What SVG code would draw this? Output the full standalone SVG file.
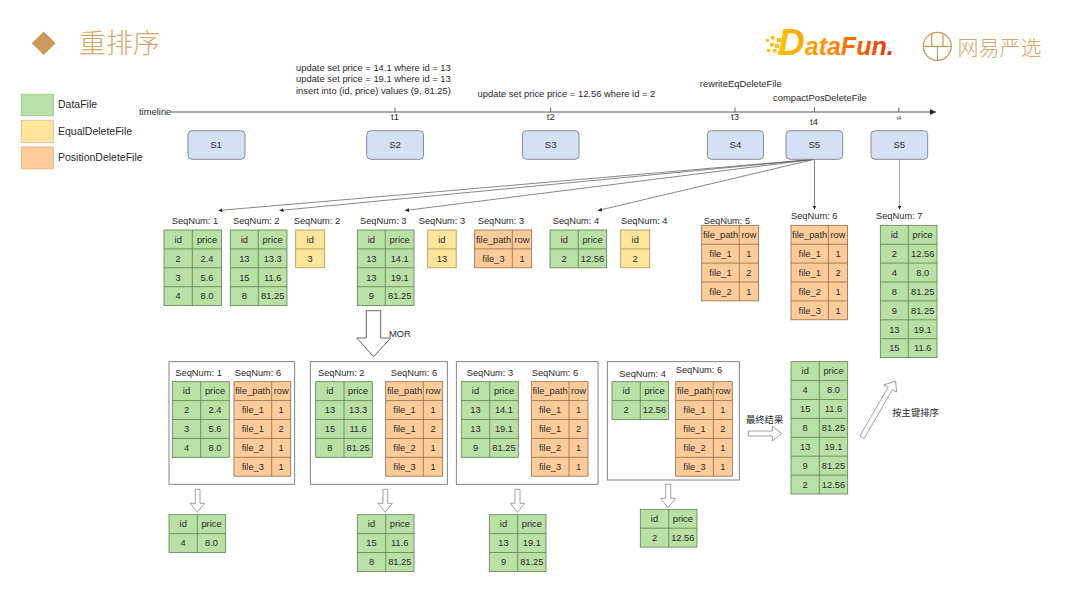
<svg xmlns="http://www.w3.org/2000/svg" width="1080" height="608" viewBox="0 0 1080 608">
<style>
text{font-family:"Liberation Sans","Noto Sans CJK SC",sans-serif;font-size:9.3px;fill:#2a2a2a}
.tb text{text-anchor:middle}
.g rect,.g path{stroke:#5f7f56}
.g rect{fill:#b9e0a5}
.y rect,.y path{stroke:#a8955c}
.y rect{fill:#ffe599}
.o rect,.o path{stroke:#8a6a4c}
.o rect{fill:#ffcc99}
.tb rect,.tb path{stroke-width:.8;fill-rule:evenodd}
.tb path{fill:none}
.box{fill:none;stroke:#666;stroke-width:.8}
.snap rect{fill:#d4e1f5;stroke:#7d808a;stroke-width:.9}
.snap text{text-anchor:middle;font-size:9.6px}
.lbl{font-size:9.4px}
.c{fill:none;stroke:#555;stroke-width:.7}
.big{fill:#fff;stroke:#555;stroke-width:.9}
.sm{fill:#fff;stroke:#888;stroke-width:.8}
.tick{fill:none;stroke:#444;stroke-width:.8}
.cjk{fill:#d6a76c}
</style>
<defs>
<marker id="ah" markerUnits="userSpaceOnUse" markerWidth="5" markerHeight="5" refX="4" refY="2" orient="auto"><path d="M0 0L4 2L0 4Z" fill="#222"/></marker>
<marker id="ahb" markerUnits="userSpaceOnUse" markerWidth="7" markerHeight="7" refX="6" refY="3" orient="auto"><path d="M0 0L6 3L0 6Z" fill="#222"/></marker>
<linearGradient id="df" gradientUnits="userSpaceOnUse" x1="780" y1="0" x2="892" y2="0"><stop offset="0" stop-color="#ffc000"/><stop offset=".45" stop-color="#ff8c00"/><stop offset="1" stop-color="#f03000"/></linearGradient>
</defs>

<g id="title">
<path d="M43.7 31.6L55.7 43.3L43.7 55L31.7 43.3Z" fill="#c99a5b"/>
<text x="79" y="52.5" class="cjk" style="font-size:27px;font-weight:300">重排序</text>
</g>

<g id="logo-datafun">
<g fill="#fdc010"><rect x="766" y="39" width="3" height="3"/><rect x="771" y="36" width="3.5" height="3.5"/><rect x="777" y="38" width="4" height="4"/><rect x="770" y="43" width="3.5" height="3.5"/><rect x="775" y="44" width="4" height="4"/><rect x="767" y="49" width="3" height="3"/><rect x="773" y="49" width="3.5" height="3.5"/><rect x="778" y="51" width="4" height="4"/></g>
<text x="778" y="55" style="font-size:25px;font-weight:bold;font-style:italic;fill:url(#df)"><tspan style="font-size:37px">D</tspan>ataFun.</text>
</g>
<g id="logo-yanxuan">
<circle cx="937.3" cy="46.3" r="14" fill="none" stroke="#c99a5b" stroke-width="1.3"/>
<path d="M931.7 33.5V46.3M943 33.5V46.3M923.5 46.3H951M937.5 46.3V60" fill="none" stroke="#c99a5b" stroke-width="1.2"/>
<text x="957.5" y="54.5" class="cjk" style="font-size:21px;font-weight:300">网易严选</text>
</g>

<g id="legend">
<rect x="21.3" y="94.3" width="32" height="21.4" fill="#b9e0a5" stroke="#a3c592"/>
<rect x="21.3" y="120.3" width="32" height="22.4" fill="#ffe599" stroke="#dcc2a8"/>
<rect x="21.3" y="147" width="32" height="21.7" fill="#ffcc99" stroke="#e5b878"/>
<text x="58" y="108.3" style="font-size:10.5px">DataFile</text>
<text x="58" y="135" style="font-size:10.5px">EqualDeleteFile</text>
<text x="58" y="161.4" style="font-size:10.5px">PositionDeleteFile</text>
</g>

<g id="connectors">
<path class="tick" d="M171 112H936" marker-end="url(#ahb)" style="stroke:#555;stroke-width:1"/>
<path class="tick" d="M395 107.3V112M550.7 107.3V112M735 107.3V112M814.5 107.3V112M898.8 107.3V112"/>
<path class="c" d="M814.5 159.3L218.5 210.5" marker-end="url(#ah)"/>
<path class="c" d="M814.5 159.3L279.5 210.5" marker-end="url(#ah)"/>
<path class="c" d="M814.5 159.3L405 210.5" marker-end="url(#ah)"/>
<path class="c" d="M814.5 159.3L598 210.5" marker-end="url(#ah)"/>
<path class="c" d="M814.5 159.3V209.5" marker-end="url(#ah)"/>
<path class="c" d="M899.5 159.3V209.5" marker-end="url(#ah)" style="stroke:#888"/>
<path class="big" d="M366.3 310.7H380.7V338H390.7L373.7 356.7L356.7 338H366.3Z"/>
<path class="sm" d="M195.3 489.3H200V503.3H204.7L197.3 512.3L190 503.3H195.3Z"/>
<path class="sm" d="M383 489.3H387.7V503.3H392.3L385.3 512.3L378 503.3H383Z"/>
<path class="sm" d="M515 489.3H520V503.3H524.7L517.3 512.3L510.3 503.3H515Z"/>
<path class="sm" d="M665.7 484.3H670.7V498.3H675.7L668 507.7L660.7 498.3H665.7Z"/>
<path class="sm" d="M748.3 431H772.3V426L781.7 433.5L772.3 441V436H748.3Z"/>
<path class="sm" d="M859.9 436L888.1 387.2L883.7 385L895.5 381L896.7 392L892.3 389.8L864.1 438.6Z"/>
</g>

<g id="texts">
<text x="139" y="115.3" class="lbl">timeline</text>
<text x="296" y="71.2" class="lbl">update set price = 14.1 where id = 13</text>
<text x="296" y="82.4" class="lbl">update set price = 19.1 where id = 13</text>
<text x="296" y="94" class="lbl">insert into (id, price) values (9, 81.25)</text>
<text x="477.6" y="96.6" class="lbl">update set price price = 12.56 where id = 2</text>
<text x="699.8" y="87.3" class="lbl">rewriteEqDeleteFile</text>
<text x="773" y="101.3" class="lbl">compactPosDeleteFile</text>
<text x="395" y="120.3" class="lbl" text-anchor="middle">t1</text>
<text x="550.7" y="120.3" class="lbl" text-anchor="middle">t2</text>
<text x="735" y="120.3" class="lbl" text-anchor="middle">t3</text>
<text x="814" y="125.3" class="lbl" text-anchor="middle">t4</text>
<text x="899" y="119.5" text-anchor="middle" style="font-size:5.5px">t4</text>
<text x="389" y="337" class="lbl">MOR</text>
<text x="746" y="422.5">最终结果</text>
<text x="892.3" y="415.5">按主键排序</text>
</g>

<g id="s1" class="snap"><rect x="188" y="130.7" width="57" height="28.6" rx="4"/><text x="216" y="148.3">S1</text></g>
<g id="s2" class="snap"><rect x="366.7" y="130.7" width="56.8" height="28.6" rx="4"/><text x="395" y="148.3">S2</text></g>
<g id="s3" class="snap"><rect x="522.4" y="130.7" width="56.6" height="28.6" rx="4"/><text x="550.7" y="148.3">S3</text></g>
<g id="s4" class="snap"><rect x="707.4" y="130.7" width="56.1" height="28.6" rx="4"/><text x="735.4" y="148.3">S4</text></g>
<g id="s5" class="snap"><rect x="786" y="130.7" width="56.7" height="28.6" rx="4"/><text x="814.3" y="148.3">S5</text></g>
<g id="s5b" class="snap"><rect x="871" y="130.7" width="56.7" height="28.6" rx="4"/><text x="899.3" y="148.3">S5</text></g>

<g id="seqnums">
<text x="171.7" y="224">SeqNum: 1</text>
<text x="233" y="224">SeqNum: 2</text>
<text x="293.7" y="224">SeqNum: 2</text>
<text x="360" y="224">SeqNum: 3</text>
<text x="418.7" y="224">SeqNum: 3</text>
<text x="477.7" y="224">SeqNum: 3</text>
<text x="552.7" y="224">SeqNum: 4</text>
<text x="621" y="224">SeqNum: 4</text>
<text x="703.7" y="224">SeqNum: 5</text>
<text x="791" y="219">SeqNum: 6</text>
<text x="876" y="219">SeqNum: 7</text>
</g>

<g id="t1" class="tb g" transform="translate(164 230)"><rect width="57.5" height="75.6"/><path d="M28.3 0V75.6M0 18.9H57.5M0 37.8H57.5M0 56.7H57.5"/><text x="14.2" y="12.75">id</text><text x="43" y="12.75">price</text><text x="14.2" y="31.65">2</text><text x="43" y="31.65">2.4</text><text x="14.2" y="50.55">3</text><text x="43" y="50.55">5.6</text><text x="14.2" y="69.45">4</text><text x="43" y="69.45">8.0</text></g>
<g id="t2" class="tb g" transform="translate(230.3 230)"><rect width="56.7" height="75.6"/><path d="M28 0V75.6M0 18.9H56.7M0 37.8H56.7M0 56.7H56.7"/><text x="14" y="12.75">id</text><text x="42.4" y="12.75">price</text><text x="14" y="31.65">13</text><text x="42.4" y="31.65">13.3</text><text x="14" y="50.55">15</text><text x="42.4" y="50.55">11.6</text><text x="14" y="69.45">8</text><text x="42.4" y="69.45">81.25</text></g>
<g id="t3" class="tb y" transform="translate(295.7 230)"><rect width="29" height="37.8"/><path d="M0 18.9H29"/><text x="14.5" y="12.75">id</text><text x="14.5" y="31.65">3</text></g>
<g id="t4" class="tb g" transform="translate(357.3 230)"><rect width="56.7" height="75.6"/><path d="M28 0V75.6M0 18.9H56.7M0 37.8H56.7M0 56.7H56.7"/><text x="14" y="12.75">id</text><text x="42.4" y="12.75">price</text><text x="14" y="31.65">13</text><text x="42.4" y="31.65">14.1</text><text x="14" y="50.55">13</text><text x="42.4" y="50.55">19.1</text><text x="14" y="69.45">9</text><text x="42.4" y="69.45">81.25</text></g>
<g id="t5" class="tb y" transform="translate(427.7 230)"><rect width="28.5" height="37.8"/><path d="M0 18.9H28.5"/><text x="14.2" y="12.75">id</text><text x="14.2" y="31.65">13</text></g>
<g id="t6" class="tb o" transform="translate(474.7 230)"><rect width="57" height="37.8"/><path d="M37.6 0V37.8M0 18.9H57"/><text x="18.8" y="12.75">file_path</text><text x="47.3" y="12.75">row</text><text x="18.8" y="31.65">file_3</text><text x="47.3" y="31.65">1</text></g>
<g id="t7" class="tb g" transform="translate(550 230)"><rect width="56.7" height="37.8"/><path d="M28.3 0V37.8M0 18.9H56.7"/><text x="14.2" y="12.75">id</text><text x="42.5" y="12.75">price</text><text x="14.2" y="31.65">2</text><text x="42.5" y="31.65">12.56</text></g>
<g id="t8" class="tb y" transform="translate(620.7 230)"><rect width="29" height="37.8"/><path d="M0 18.9H29"/><text x="14.5" y="12.75">id</text><text x="14.5" y="31.65">2</text></g>
<g id="t9" class="tb o" transform="translate(701.7 225.3)"><rect width="56.7" height="75.6"/><path d="M37.6 0V75.6M0 18.9H56.7M0 37.8H56.7M0 56.7H56.7"/><text x="18.8" y="12.75">file_path</text><text x="47.2" y="12.75">row</text><text x="18.8" y="31.65">file_1</text><text x="47.2" y="31.65">1</text><text x="18.8" y="50.55">file_1</text><text x="47.2" y="50.55">2</text><text x="18.8" y="69.45">file_2</text><text x="47.2" y="69.45">1</text></g>
<g id="t10" class="tb o" transform="translate(791 225.3)"><rect width="56.5" height="94.5"/><path d="M37.4 0V94.5M0 18.9H56.5M0 37.8H56.5M0 56.7H56.5M0 75.6H56.5"/><text x="18.7" y="12.75">file_path</text><text x="47" y="12.75">row</text><text x="18.7" y="31.65">file_1</text><text x="47" y="31.65">1</text><text x="18.7" y="50.55">file_1</text><text x="47" y="50.55">2</text><text x="18.7" y="69.45">file_2</text><text x="47" y="69.45">1</text><text x="18.7" y="88.35">file_3</text><text x="47" y="88.35">1</text></g>
<g id="t11" class="tb g" transform="translate(880.3 225.3)"><rect width="56.7" height="132.3"/><path d="M28 0V132.3M0 18.9H56.7M0 37.8H56.7M0 56.7H56.7M0 75.6H56.7M0 94.5H56.7M0 113.4H56.7"/><text x="14" y="12.75">id</text><text x="42.4" y="12.75">price</text><text x="14" y="31.65">2</text><text x="42.4" y="31.65">12.56</text><text x="14" y="50.55">4</text><text x="42.4" y="50.55">8.0</text><text x="14" y="69.45">8</text><text x="42.4" y="69.45">81.25</text><text x="14" y="88.35">9</text><text x="42.4" y="88.35">81.25</text><text x="14" y="107.25">13</text><text x="42.4" y="107.25">19.1</text><text x="14" y="126.15">15</text><text x="42.4" y="126.15">11.6</text></g>

<g id="mor1">
<rect class="box" x="169" y="361.7" width="125.7" height="122.6"/>
<text x="175.3" y="375.6">SeqNum: 1</text><text x="234.7" y="375.6">SeqNum: 6</text>
<g class="tb g" transform="translate(172.3 381.7)"><rect width="57" height="75.6"/><path d="M28.4 0V75.6M0 18.9H57M0 37.8H57M0 56.7H57"/><text x="14.2" y="12.75">id</text><text x="42.7" y="12.75">price</text><text x="14.2" y="31.65">2</text><text x="42.7" y="31.65">2.4</text><text x="14.2" y="50.55">3</text><text x="42.7" y="50.55">5.6</text><text x="14.2" y="69.45">4</text><text x="42.7" y="69.45">8.0</text></g>
<g class="tb o" transform="translate(234 381.7)"><rect width="56.7" height="94.5"/><path d="M37.7 0V94.5M0 18.9H56.7M0 37.8H56.7M0 56.7H56.7M0 75.6H56.7"/><text x="18.8" y="12.75">file_path</text><text x="47.2" y="12.75">row</text><text x="18.8" y="31.65">file_1</text><text x="47.2" y="31.65">1</text><text x="18.8" y="50.55">file_1</text><text x="47.2" y="50.55">2</text><text x="18.8" y="69.45">file_2</text><text x="47.2" y="69.45">1</text><text x="18.8" y="88.35">file_3</text><text x="47.2" y="88.35">1</text></g>
</g>
<g id="mor2">
<rect class="box" x="310.3" y="361.7" width="137" height="122.6"/>
<text x="318" y="375.6">SeqNum: 2</text><text x="390.7" y="375.6">SeqNum: 6</text>
<g class="tb g" transform="translate(315.7 381.7)"><rect width="56.6" height="75.6"/><path d="M28.3 0V75.6M0 18.9H56.6M0 37.8H56.6M0 56.7H56.6"/><text x="14.2" y="12.75">id</text><text x="42.4" y="12.75">price</text><text x="14.2" y="31.65">13</text><text x="42.4" y="31.65">13.3</text><text x="14.2" y="50.55">15</text><text x="42.4" y="50.55">11.6</text><text x="14.2" y="69.45">8</text><text x="42.4" y="69.45">81.25</text></g>
<g class="tb o" transform="translate(385.7 381.7)"><rect width="57" height="94.5"/><path d="M37.6 0V94.5M0 18.9H57M0 37.8H57M0 56.7H57M0 75.6H57"/><text x="18.8" y="12.75">file_path</text><text x="47.3" y="12.75">row</text><text x="18.8" y="31.65">file_1</text><text x="47.3" y="31.65">1</text><text x="18.8" y="50.55">file_1</text><text x="47.3" y="50.55">2</text><text x="18.8" y="69.45">file_2</text><text x="47.3" y="69.45">1</text><text x="18.8" y="88.35">file_3</text><text x="47.3" y="88.35">1</text></g>
</g>
<g id="mor3">
<rect class="box" x="456.3" y="361.7" width="141.7" height="122.6"/>
<text x="466.7" y="375.6">SeqNum: 3</text><text x="531.7" y="375.6">SeqNum: 6</text>
<g class="tb g" transform="translate(461.3 381.7)"><rect width="57" height="75.6"/><path d="M28.4 0V75.6M0 18.9H57M0 37.8H57M0 56.7H57"/><text x="14.2" y="12.75">id</text><text x="42.7" y="12.75">price</text><text x="14.2" y="31.65">13</text><text x="42.7" y="31.65">14.1</text><text x="14.2" y="50.55">13</text><text x="42.7" y="50.55">19.1</text><text x="14.2" y="69.45">9</text><text x="42.7" y="69.45">81.25</text></g>
<g class="tb o" transform="translate(531.3 381.7)"><rect width="56.7" height="94.5"/><path d="M37.7 0V94.5M0 18.9H56.7M0 37.8H56.7M0 56.7H56.7M0 75.6H56.7"/><text x="18.8" y="12.75">file_path</text><text x="47.2" y="12.75">row</text><text x="18.8" y="31.65">file_1</text><text x="47.2" y="31.65">1</text><text x="18.8" y="50.55">file_1</text><text x="47.2" y="50.55">2</text><text x="18.8" y="69.45">file_2</text><text x="47.2" y="69.45">1</text><text x="18.8" y="88.35">file_3</text><text x="47.2" y="88.35">1</text></g>
</g>
<g id="mor4">
<rect class="box" x="607.3" y="361.7" width="132" height="118.3"/>
<text x="619.3" y="376.5">SeqNum: 4</text><text x="675.7" y="373.3">SeqNum: 6</text>
<g class="tb g" transform="translate(612 381.7)"><rect width="56.7" height="37.8"/><path d="M28.3 0V37.8M0 18.9H56.7"/><text x="14.2" y="12.75">id</text><text x="42.5" y="12.75">price</text><text x="14.2" y="31.65">2</text><text x="42.5" y="31.65">12.56</text></g>
<g class="tb o" transform="translate(675.7 381.7)"><rect width="56.6" height="94.5"/><path d="M37.6 0V94.5M0 18.9H56.6M0 37.8H56.6M0 56.7H56.6M0 75.6H56.6"/><text x="18.8" y="12.75">file_path</text><text x="47.2" y="12.75">row</text><text x="18.8" y="31.65">file_1</text><text x="47.2" y="31.65">1</text><text x="18.8" y="50.55">file_1</text><text x="47.2" y="50.55">2</text><text x="18.8" y="69.45">file_2</text><text x="47.2" y="69.45">1</text><text x="18.8" y="88.35">file_3</text><text x="47.2" y="88.35">1</text></g>
</g>

<g id="r1" class="tb g" transform="translate(169 514.7)"><rect width="56.7" height="37.8"/><path d="M28.3 0V37.8M0 18.9H56.7"/><text x="14.2" y="12.75">id</text><text x="42.5" y="12.75">price</text><text x="14.2" y="31.65">4</text><text x="42.5" y="31.65">8.0</text></g>
<g id="r2" class="tb g" transform="translate(357.3 514.7)"><rect width="56.7" height="56.7"/><path d="M28.4 0V56.7M0 18.9H56.7M0 37.8H56.7"/><text x="14.2" y="12.75">id</text><text x="42.5" y="12.75">price</text><text x="14.2" y="31.65">15</text><text x="42.5" y="31.65">11.6</text><text x="14.2" y="50.55">8</text><text x="42.5" y="50.55">81.25</text></g>
<g id="r3" class="tb g" transform="translate(489.3 514.7)"><rect width="56.7" height="56.7"/><path d="M28.4 0V56.7M0 18.9H56.7M0 37.8H56.7"/><text x="14.2" y="12.75">id</text><text x="42.5" y="12.75">price</text><text x="14.2" y="31.65">13</text><text x="42.5" y="31.65">19.1</text><text x="14.2" y="50.55">9</text><text x="42.5" y="50.55">81.25</text></g>
<g id="r4" class="tb g" transform="translate(640.3 509.3)"><rect width="56.7" height="37.8"/><path d="M28.4 0V37.8M0 18.9H56.7"/><text x="14.2" y="12.75">id</text><text x="42.5" y="12.75">price</text><text x="14.2" y="31.65">2</text><text x="42.5" y="31.65">12.56</text></g>
<g id="final" class="tb g" transform="translate(791 361.7)"><rect width="56.7" height="132.3"/><path d="M28.3 0V132.3M0 18.9H56.7M0 37.8H56.7M0 56.7H56.7M0 75.6H56.7M0 94.5H56.7M0 113.4H56.7"/><text x="14.2" y="12.75">id</text><text x="42.5" y="12.75">price</text><text x="14.2" y="31.65">4</text><text x="42.5" y="31.65">8.0</text><text x="14.2" y="50.55">15</text><text x="42.5" y="50.55">11.6</text><text x="14.2" y="69.45">8</text><text x="42.5" y="69.45">81.25</text><text x="14.2" y="88.35">13</text><text x="42.5" y="88.35">19.1</text><text x="14.2" y="107.25">9</text><text x="42.5" y="107.25">81.25</text><text x="14.2" y="126.15">2</text><text x="42.5" y="126.15">12.56</text></g>
</svg>
